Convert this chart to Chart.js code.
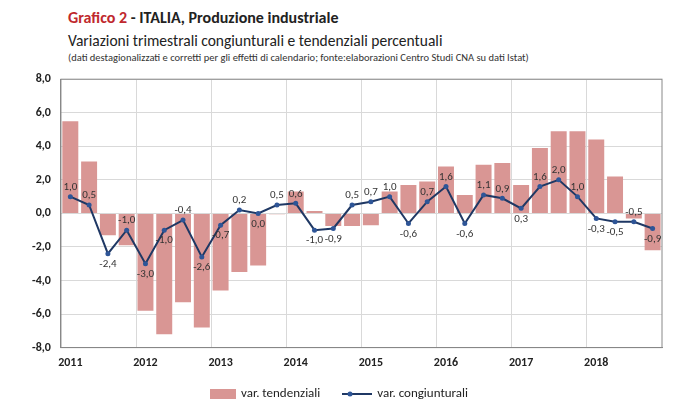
<!DOCTYPE html>
<html><head><meta charset="utf-8">
<script src="https://cdn.jsdelivr.net/npm/chart.js@4/dist/chart.umd.min.js"></script>
<style>
body{margin:0;background:#fff;font-family:Calibri,"Liberation Sans",Arial,sans-serif;}
#wrap{position:relative;width:696px;height:408px;}
#t1{position:absolute;left:68px;top:8px;font-size:16px;font-weight:bold;color:#222;}
#t2{position:absolute;left:68px;top:31px;font-size:15.5px;color:#222;}
#t3{position:absolute;left:68px;top:51px;font-size:10.5px;color:#333;}
#cv{position:absolute;left:0;top:62px;}
#leg{position:absolute;top:385px;left:210px;font-size:13px;color:#222;display:flex;gap:22px;align-items:center;}
.sw{display:inline-block;vertical-align:middle;margin-right:5px;}
</style></head><body>
<div id="wrap">
<div id="t1"><span style="color:#c0282d">Grafico 2</span> - ITALIA, Produzione industriale</div>
<div id="t2">Variazioni trimestrali congiunturali e tendenziali percentuali</div>
<div id="t3">(dati destagionalizzati e corretti per gli effetti di calendario; fonte:elaborazioni Centro Studi CNA su dati Istat)</div>
<canvas id="cv" width="696" height="346"></canvas>
<div id="leg">
<span><span class="sw" style="width:26px;height:10px;background:#d99694"></span>var. tendenziali</span>
<span><svg class="sw" width="30" height="10"><line x1="0" y1="5" x2="30" y2="5" stroke="#1f3864" stroke-width="2"/><circle cx="8" cy="5" r="2.5" fill="#2e5597"/></svg>var. congiunturali</span>
</div>
</div>
<script>
const years = ['2011','2012','2013','2014','2015','2016','2017','2018'];
const tendenziali = [5.5,3.1,-1.3,-1.9, -5.8,-7.2,-5.3,-6.8, -4.6,-3.5,-3.1,-0.05, 1.3,0.15,-0.75,-0.75,
  -0.7,1.3,1.7,1.9, 2.8,1.1,2.9,3.0, 1.7,3.9,4.9,4.9, 4.4,2.2,-0.3,-2.2];
const congiunturali = [1.0,0.5,-2.4,-1.0, -3.0,-1.0,-0.4,-2.6, -0.7,0.2,0.0,0.5, 0.6,-1.0,-0.9,0.5,
  0.7,1.0,-0.6,0.7, 1.6,-0.6,1.1,0.9, 0.3,1.6,2.0,1.0, -0.3,-0.5,-0.5,-0.9];
const yTicks = [-8,-6,-4,-2,0,2,4,6,8];

const labels = [];
years.forEach(y => { labels.push(y, '', '', ''); });
const fmt = v => v.toFixed(1).replace('.', ',');

const pointLabels = {
  id: 'pointLabels',
  afterDatasetsDraw(chart) {
    const ctx = chart.ctx;
    const meta = chart.getDatasetMeta(1);
    ctx.save();
    ctx.font = '11px Calibri, "Liberation Sans", Arial, sans-serif';
    ctx.fillStyle = '#333';
    ctx.textAlign = 'center';
    meta.data.forEach((p, i) => {
      const v = congiunturali[i];
      const prev = congiunturali[i - 1] ?? v, next = congiunturali[i + 1] ?? v;
      const above = v >= Math.max(prev, next) || (v >= 0 && v > Math.min(prev, next));
      ctx.textBaseline = above ? 'bottom' : 'top';
      ctx.fillText(fmt(v), p.x, above ? p.y - 4 : p.y + 5);
    });
    ctx.restore();
  }
};

new Chart(document.getElementById('cv'), {
  data: {
    labels: labels,
    datasets: [
      { type: 'bar', label: 'var. tendenziali', data: tendenziali, backgroundColor: '#d99694',
        categoryPercentage: 0.85, barPercentage: 1.0, order: 2 },
      { type: 'line', label: 'var. congiunturali', data: congiunturali, borderColor: '#1f3864',
        borderWidth: 2, pointRadius: 2.5, pointBackgroundColor: '#2e5597', pointBorderWidth: 0,
        tension: 0, order: 1 }
    ]
  },
  options: {
    responsive: false, animation: false,
    layout: { padding: { left: 22, right: 34, top: 8, bottom: 30 } },
    plugins: { legend: { display: false }, tooltip: { enabled: false } },
    scales: {
      x: {
        grid: { offset: true, color: c => (c.index % 4 === 0 && c.index > 0) ? '#d9d9d9' : 'rgba(0,0,0,0)', drawTicks: false },
        border: { color: '#888' },
        ticks: { autoSkip: false, maxRotation: 0, padding: 8, color: '#222',
          font: { size: 12, weight: 'bold', family: 'Calibri, "Liberation Sans", Arial' },
          callback: (v, i) => labels[i] }
      },
      y: {
        min: -8, max: 8,
        afterBuildTicks: a => { a.ticks = yTicks.map(v => ({ value: v })); },
        grid: { color: '#d9d9d9', drawTicks: false },
        border: { color: '#888' },
        ticks: { padding: 10, color: '#222', callback: v => fmt(v),
          font: { size: 12, weight: 'bold', family: 'Calibri, "Liberation Sans", Arial' } }
      }
    }
  },
  plugins: [pointLabels, {
    id: 'frame',
    afterDraw(chart) {
      const a = chart.chartArea, ctx = chart.ctx;
      ctx.save(); ctx.strokeStyle = '#888'; ctx.lineWidth = 1;
      ctx.strokeRect(a.left, a.top, a.right - a.left, a.bottom - a.top);
      ctx.restore();
    }
  }]
});
</script>
</body></html>
